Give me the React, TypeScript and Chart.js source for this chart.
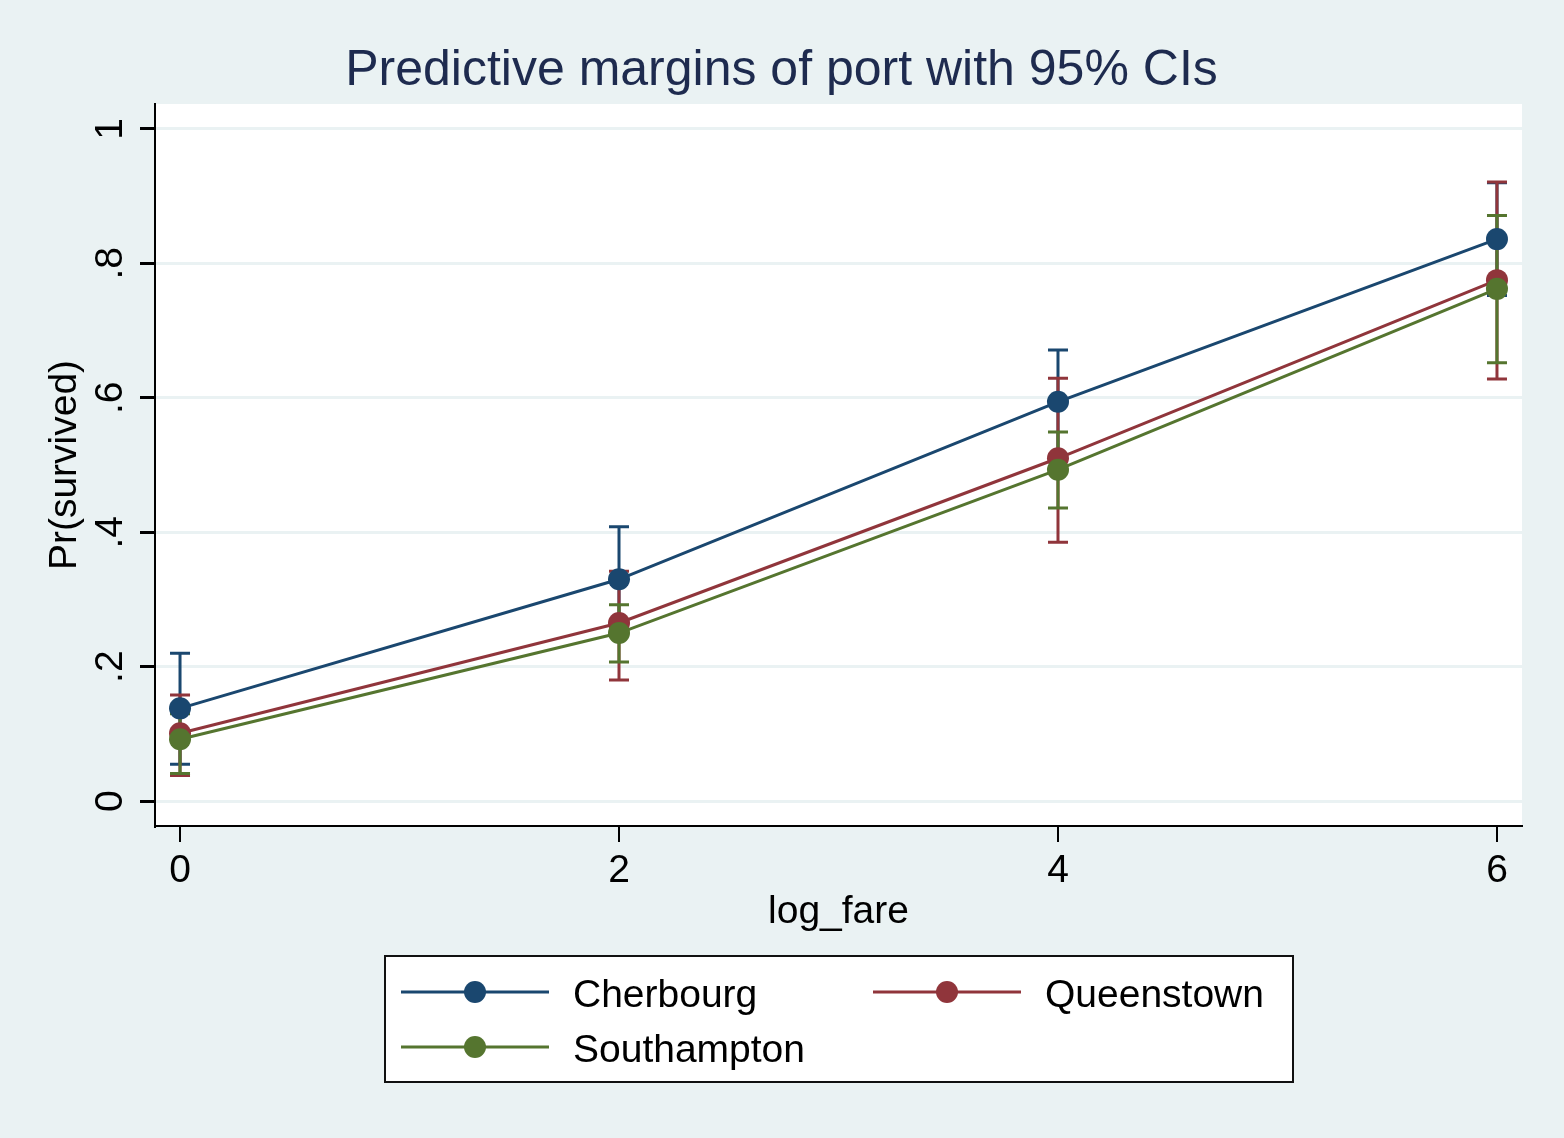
import React, { useEffect, useRef } from "react";
import { Chart, registerables } from "chart.js";

Chart.register(...registerables);

const xValues = [0, 2, 4, 6];
const xTickValues = [0, 2, 4, 6];
const xTickLabels = ["0", "2", "4", "6"];
const yTickValues = [0, 0.2, 0.4, 0.6, 0.8, 1];
const yTickLabels = ["0", ".2", ".4", ".6", ".8", "1"];

const seriesNames = ["Cherbourg", "Queenstown", "Southampton"];
const seriesColors = ["#1A476F", "#90353B", "#55752F"];

const cherbourg = [0.138, 0.33, 0.594, 0.836];
const cherbourgLo = [0.055, 0.255, 0.515, 0.752];
const cherbourgHi = [0.22, 0.408, 0.671, 0.92];

const queenstown = [0.101, 0.265, 0.51, 0.775];
const queenstownLo = [0.038, 0.18, 0.385, 0.628];
const queenstownHi = [0.158, 0.342, 0.629, 0.921];

const southampton = [0.092, 0.25, 0.493, 0.762];
const southamptonLo = [0.041, 0.207, 0.436, 0.652];
const southamptonHi = [0.13, 0.292, 0.549, 0.871];

const titleText = "Predictive margins of port with 95% CIs";
const xTitle = "log_fare";
const yTitle = "Pr(survived)";

const FONT = '"Liberation Sans", Arial, Helvetica, sans-serif';
const BG = "#EAF2F3";

const values = [cherbourg, queenstown, southampton];
const lows = [cherbourgLo, queenstownLo, southamptonLo];
const highs = [cherbourgHi, queenstownHi, southamptonHi];

export default function App() {
  const canvasRef = useRef<HTMLCanvasElement | null>(null);

  useEffect(() => {
    document.body.style.margin = "0";
    const canvas = canvasRef.current;
    if (!canvas) return;

    const bgPlugin = {
      id: "stataBg",
      beforeDraw(chart: any) {
        const { ctx, chartArea } = chart;
        ctx.save();
        ctx.fillStyle = BG;
        ctx.fillRect(0, 0, chart.width, chart.height);
        ctx.fillStyle = "#FFFFFF";
        ctx.fillRect(
          chartArea.left,
          chartArea.top,
          chartArea.right - chartArea.left,
          chartArea.bottom - chartArea.top
        );
        ctx.restore();
      },
    };

    const errorBarPlugin = {
      id: "errorBars",
      beforeDatasetsDraw(chart: any) {
        const { ctx } = chart;
        const xs = chart.scales.x;
        const ys = chart.scales.y;
        ctx.save();
        ctx.lineWidth = 3;
        ctx.lineCap = "butt";
        for (let s = 0; s < values.length; s++) {
          ctx.strokeStyle = seriesColors[s];
          for (let i = 0; i < xValues.length; i++) {
            const px = xs.getPixelForValue(xValues[i]);
            const pLo = ys.getPixelForValue(lows[s][i]);
            const pHi = ys.getPixelForValue(highs[s][i]);
            ctx.beginPath();
            ctx.moveTo(px, pLo);
            ctx.lineTo(px, pHi);
            ctx.moveTo(px - 10, pLo);
            ctx.lineTo(px + 10, pLo);
            ctx.moveTo(px - 10, pHi);
            ctx.lineTo(px + 10, pHi);
            ctx.stroke();
          }
        }
        ctx.restore();
      },
    };

    const textPlugin = {
      id: "stataText",
      afterDraw(chart: any) {
        const { ctx, chartArea } = chart;
        const xs = chart.scales.x;
        const ys = chart.scales.y;
        ctx.save();
        // title
        ctx.fillStyle = "#1E2B4F";
        ctx.font = `50px ${FONT}`;
        ctx.textAlign = "center";
        ctx.textBaseline = "alphabetic";
        ctx.fillText(titleText, (chartArea.left + chartArea.right) / 2 - 57, 85);

        // x tick labels
        ctx.fillStyle = "#000000";
        ctx.font = `39px ${FONT}`;
        for (let i = 0; i < xTickValues.length; i++) {
          ctx.fillText(xTickLabels[i], xs.getPixelForValue(xTickValues[i]), 882);
        }
        // x title
        ctx.fillText(xTitle, (chartArea.left + chartArea.right) / 2, 923);

        // y tick labels (rotated)
        for (let i = 0; i < yTickValues.length; i++) {
          const py = ys.getPixelForValue(yTickValues[i]);
          ctx.save();
          ctx.translate(122, py);
          ctx.rotate(-Math.PI / 2);
          ctx.fillText(yTickLabels[i], 0, 0);
          ctx.restore();
        }
        // y title
        ctx.save();
        ctx.translate(76, (chartArea.top + chartArea.bottom) / 2);
        ctx.rotate(-Math.PI / 2);
        ctx.fillText(yTitle, 0, 0);
        ctx.restore();

        // legend
        const lx = 385, ly = 956, lw = 908, lh = 126;
        ctx.fillStyle = "#FFFFFF";
        ctx.fillRect(lx, ly, lw, lh);
        ctx.strokeStyle = "#111111";
        ctx.lineWidth = 2;
        ctx.strokeRect(lx, ly, lw, lh);

        const entries = [
          { x: 401, y: 992 },
          { x: 873, y: 992 },
          { x: 401, y: 1047 },
        ];
        const dsets = chart.data.datasets;
        for (let s = 0; s < entries.length; s++) {
          const e = entries[s];
          const color = dsets[s].borderColor;
          ctx.strokeStyle = color;
          ctx.lineWidth = 3;
          ctx.beginPath();
          ctx.moveTo(e.x, e.y);
          ctx.lineTo(e.x + 148, e.y);
          ctx.stroke();
          ctx.fillStyle = color;
          ctx.beginPath();
          ctx.arc(e.x + 74, e.y, 11, 0, Math.PI * 2);
          ctx.fill();
          ctx.fillStyle = "#000000";
          ctx.font = `39px ${FONT}`;
          ctx.textAlign = "left";
          ctx.textBaseline = "alphabetic";
          ctx.fillText(dsets[s].label, e.x + 172, e.y + 15);
        }
        ctx.restore();
      },
    };

    const datasets = seriesNames.map((name, s) => ({
      label: name,
      data: xValues.map((x, i) => ({ x, y: values[s][i] })),
      borderColor: seriesColors[s],
      backgroundColor: seriesColors[s],
      pointBackgroundColor: seriesColors[s],
      pointBorderColor: seriesColors[s],
      pointBorderWidth: 0,
      pointRadius: 11,
      pointHoverRadius: 11,
      borderWidth: 3,
      tension: 0,
      fill: false,
      showLine: true,
      order: 3 - s,
    }));

    const chart = new Chart(canvas, {
      type: "line",
      data: { datasets },
      options: {
        animation: false,
        responsive: true,
        maintainAspectRatio: false,
        devicePixelRatio: 1,
        layout: { padding: { left: 0, right: 42, top: 104, bottom: 0 } },
        plugins: {
          legend: { display: false },
          title: { display: false },
          tooltip: { enabled: false },
        },
        scales: {
          x: {
            type: "linear",
            min: -0.114,
            max: 6.114,
            afterBuildTicks: (scale: any) => {
              scale.ticks = xTickValues.map((v) => ({ value: v }));
            },
            afterFit: (scale: any) => {
              scale.height = 312;
            },
            ticks: { display: false },
            grid: {
              drawOnChartArea: false,
              drawTicks: true,
              tickLength: 16,
              tickColor: "#000000",
              lineWidth: 2,
              color: "#000000",
            },
            border: { display: true, color: "#000000", width: 2 },
          },
          y: {
            type: "linear",
            min: -0.037,
            max: 1.037,
            afterBuildTicks: (scale: any) => {
              scale.ticks = yTickValues.map((v) => ({ value: v }));
            },
            afterFit: (scale: any) => {
              scale.width = 155;
            },
            ticks: { display: false },
            grid: {
              drawOnChartArea: true,
              drawTicks: true,
              tickLength: 15,
              tickColor: "#000000",
              color: BG,
              lineWidth: 3,
            },
            border: { display: true, color: "#000000", width: 2 },
          },
        },
      },
      plugins: [bgPlugin, errorBarPlugin, textPlugin],
    } as any);

    return () => {
      chart.destroy();
    };
  }, []);

  return (
    <div style={{ position: "absolute", left: 0, top: 0, width: 1564, height: 1138 }}>
      <canvas ref={canvasRef} />
    </div>
  );
}
